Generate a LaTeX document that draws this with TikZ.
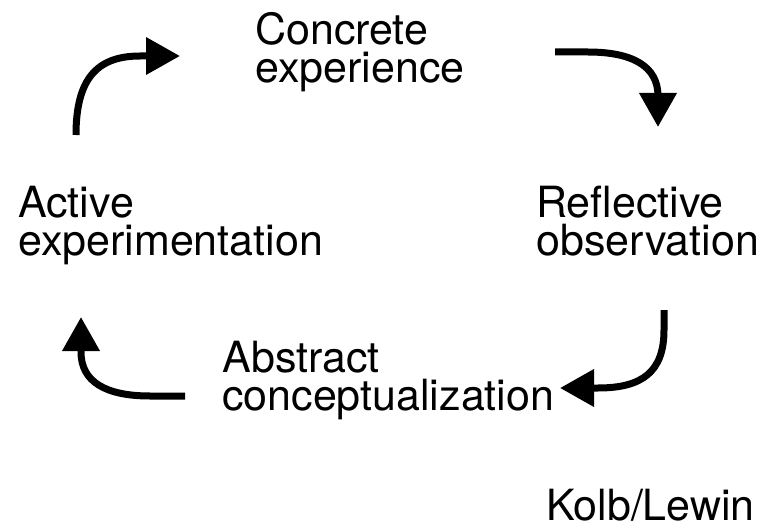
\documentclass[tikz,border=0pt]{standalone}
\usepackage{fontspec}
\setmainfont{TeX Gyre Heros}
\usetikzlibrary{arrows.meta}

\tikzset{
  stage/.style={anchor=north west, inner sep=0pt, align=left,
    font=\fontsize{43}{38.5}\selectfont},
  cyclearrow/.style={line width=7pt, line cap=butt,
    -{Triangle[length=34pt,width=36pt]}}
}
% top of first line sits 32pt above its baseline
\newcommand{\firstline}{\rule{0pt}{32pt}}

\begin{document}
\begin{tikzpicture}[x=1pt, y=-1pt]
  \useasboundingbox (0,0) rectangle (761,527);

  % the four stages of the cycle
  \node[stage] (concrete)   at (255,12)  {\firstline Concrete\\experience};
  \node[stage] (reflective) at (536,185) {\firstline Reflective\\observation};
  \node[stage] (abstract)   at (222,340) {\firstline Abstract\\conceptualization};
  \node[stage] (active)     at (18,185)  {\firstline Active\\experimentation};
  \node[stage] (credit)     at (546,488) {\firstline Kolb/Lewin};

  % arrow end points
  \coordinate (a1s) at (76,135);  \coordinate (a1e) at (180,56);
  \coordinate (a2s) at (555,52);  \coordinate (a2e) at (658,127);
  \coordinate (a3s) at (664,310); \coordinate (a3e) at (560,388);
  \coordinate (a4s) at (185,396); \coordinate (a4e) at (81,317);

  % active -> concrete
  \draw[cyclearrow] (a1s) .. controls (76,80) and (96,56) .. (140,56) -- (a1e);
  % concrete -> reflective
  \draw[cyclearrow] (a2s) -- (588,52) .. controls (632,52) and (658,66) .. (658,96) -- (a2e);
  % reflective -> abstract
  \draw[cyclearrow] (a3s) -- (664,330) .. controls (664,372) and (642,388) .. (598,388) -- (a3e);
  % abstract -> active
  \draw[cyclearrow] (a4s) -- (150,396) .. controls (106,396) and (81,382) .. (81,352) -- (a4e);
\end{tikzpicture}
\end{document}
